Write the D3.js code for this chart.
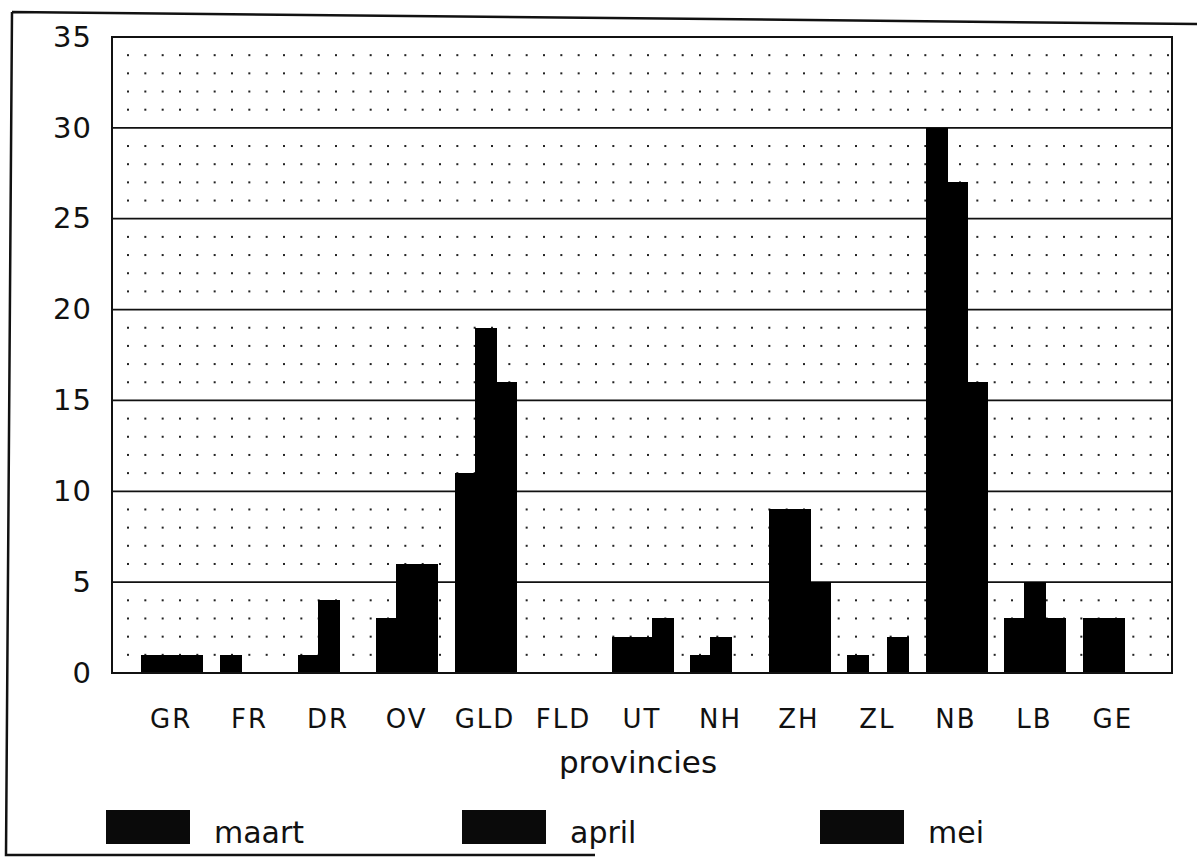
<!DOCTYPE html>
<html>
<head>
<meta charset="utf-8">
<script src="https://cdn.jsdelivr.net/npm/d3@7"></script>
<style>
  body { margin: 0; background: #fff; }
  svg text { font-family: "DejaVu Sans", "Liberation Sans", sans-serif; fill: #111; }
</style>
</head>
<body>
<svg id="chart"></svg>
<script>
// data
var provinces = ["GR", "FR", "DR", "OV", "GLD", "FLD", "UT", "NH", "ZH", "ZL", "NB", "LB", "GE"];
var maart = [1, 1, 1, 3, 11, 0, 2, 1, 9, 1, 30, 3, 3];
var april = [1, 0, 4, 6, 19, 0, 2, 2, 9, 0, 27, 5, 3];
var mei   = [1, 0, 0, 6, 16, 0, 3, 0, 5, 2, 16, 3, 0];
var months = ["maart", "april", "mei"];
var yTicks = [0, 5, 10, 15, 20, 25, 30, 35];

var svgWidth = 1197;
var svgHeight = 863;
// note: "top" is taken by window.top, so plot edges get their own names
var plotLeft = 112, plotRight = 1172, plotTop = 37, plotBottom = 673;

var svg = d3.select("#chart")
    .attr("width", svgWidth)
    .attr("height", svgHeight);

var x = d3.scaleBand()
    .domain(provinces)
    .range([plotLeft, plotRight])
    .paddingInner(0.234)
    .paddingOuter(0.37);

var xSub = d3.scaleBand()
    .domain(months)
    .range([0, x.bandwidth()]);

var y = d3.scaleLinear()
    .domain([0, 35])
    .range([plotBottom, plotTop]);

// outer frame of the page (left, top, part of bottom)
svg.append("path")
    .attr("d", "M12,12 L1197,24 M12,12 L6,855 L595,855")
    .attr("fill", "none")
    .attr("stroke", "#111")
    .attr("stroke-width", 2.5);

// dotted minor grid, one row per unit
var dotCols = d3.range(61);
var dotX = d3.scaleLinear().domain([0, 60]).range([128, 1168]);
var dotRows = d3.range(1, 35).filter(function(v) { return v % 5 !== 0; });
var dots = [];
dotRows.forEach(function(r) {
    dotCols.forEach(function(c) { dots.push([c, r]); });
});
svg.append("g").selectAll("rect")
    .data(dots)
    .enter()
    .append("rect")
    .attr("x", function(d) { return dotX(d[0]) - 1; })
    .attr("y", function(d) { return y(d[1]) - 1; })
    .attr("width", 2)
    .attr("height", 2)
    .attr("fill", "#222");

// solid grid lines at the labelled ticks
svg.append("g").selectAll("line")
    .data(yTicks.slice(1, -1))
    .enter()
    .append("line")
    .attr("x1", plotLeft).attr("x2", plotRight)
    .attr("y1", function(d) { return y(d); })
    .attr("y2", function(d) { return y(d); })
    .attr("stroke", "#111")
    .attr("stroke-width", 1.8);

// bars
var groups = svg.append("g").selectAll("g")
    .data(provinces)
    .enter()
    .append("g")
    .attr("transform", function(d) { return "translate(" + Math.round(x(d)) + ",0)"; });

var series = { maart: maart, april: april, mei: mei };
groups.selectAll("rect")
    .data(function(d, i) {
        return months.map(function(m) { return { m: m, v: series[m][i] }; });
    })
    .enter()
    .append("rect")
    .attr("x", function(d) { return Math.floor(xSub(d.m)); })
    .attr("width", Math.ceil(xSub.bandwidth()) + 1)
    .attr("y", function(d) { return y(d.v); })
    .attr("height", function(d) { return plotBottom - y(d.v); })
    .attr("shape-rendering", "crispEdges")
    .attr("fill", "#000");

// plot frame
svg.append("rect")
    .attr("x", plotLeft).attr("y", plotTop)
    .attr("width", plotRight - plotLeft).attr("height", plotBottom - plotTop)
    .attr("fill", "none")
    .attr("stroke", "#111")
    .attr("stroke-width", 2);

// y tick labels
var yAxis = d3.axisLeft(y).tickValues(yTicks).tickSize(0).tickPadding(20);
var ya = svg.append("g")
    .attr("transform", "translate(" + plotLeft + ",0)")
    .call(yAxis);
ya.select(".domain").remove();
ya.selectAll("text")
    .style("font-family", "DejaVu Sans, Liberation Sans, sans-serif")
    .style("font-size", "29px")
    .style("letter-spacing", "1px")
    .attr("fill", "#111");

// x tick labels
var xAxis = d3.axisBottom(x).tickSize(0).tickPadding(37);
var xa = svg.append("g")
    .attr("transform", "translate(0," + plotBottom + ")")
    .call(xAxis);
xa.select(".domain").remove();
xa.selectAll("text")
    .style("font-family", "DejaVu Sans, Liberation Sans, sans-serif")
    .style("font-size", "26px")
    .style("letter-spacing", "2px")
    .attr("fill", "#111");

svg.append("text")
    .attr("x", 638)
    .attr("y", 773)
    .attr("text-anchor", "middle")
    .style("font-size", "31px")
    .text("provincies");

// legend
var legendX = [106, 462, 820];
var legend = svg.append("g").selectAll("g")
    .data(months)
    .enter()
    .append("g")
    .attr("transform", function(d, i) { return "translate(" + legendX[i] + ",810)"; });
legend.append("rect")
    .attr("width", 84)
    .attr("height", 34)
    .attr("fill", "#0a0a0a");
legend.append("text")
    .attr("x", 108)
    .attr("y", 33)
    .style("font-size", "30px")
    .text(function(d) { return d; });
</script>
</body>
</html>
